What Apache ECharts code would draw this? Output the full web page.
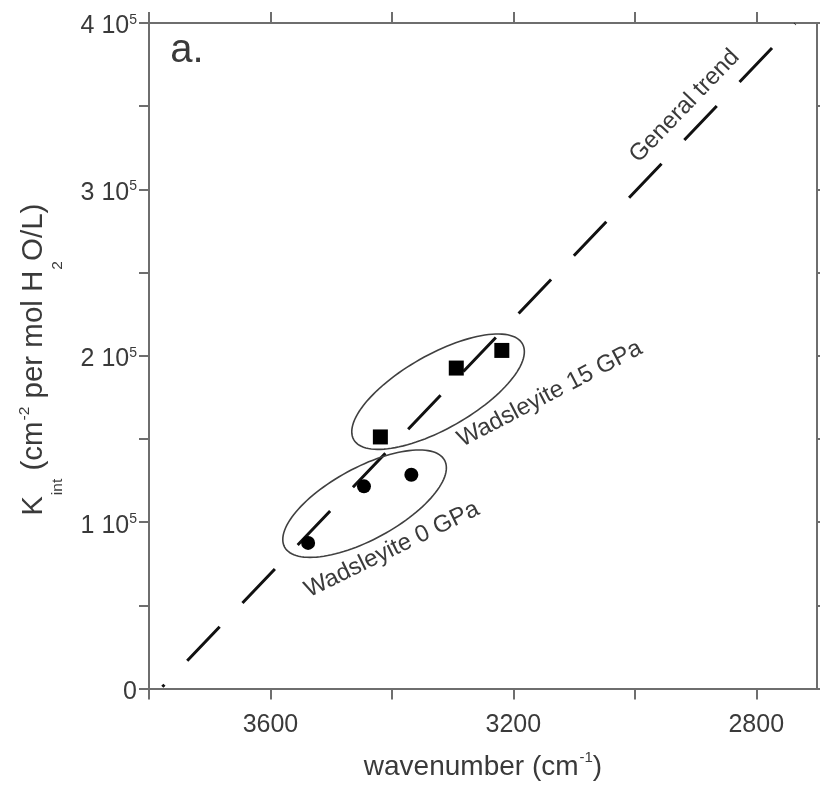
<!DOCTYPE html>
<html>
<head>
<meta charset="utf-8">
<script src="https://cdn.jsdelivr.net/npm/echarts@6/dist/echarts.min.js"></script>
<style>
  html, body { margin: 0; padding: 0; background: #ffffff; }
  #chart { width: 820px; height: 786px; }
</style>
</head>
<body>
<div id="chart"></div>
<script>
// Integrated absorption coefficient of OH bands vs. wavenumber
const wads0Wavenumber = [3538, 3446, 3368];
const wads0Kint = [87500, 121500, 128500];
const wads15Wavenumber = [3419, 3294, 3219];
const wads15Kint = [151200, 192600, 203200];

// End points of the general trend line
const trendWavenumber = [3778, 2736];
const trendKint = [1000, 399500];

// Axis ticks and labels
const xTickValues = [3800, 3600, 3400, 3200, 3000, 2800];
const xLabelValues = [3600, 3200, 2800];
const yTickValues = [0, 50000, 100000, 150000, 200000, 250000, 300000, 350000, 400000];
const yLabelValues = [0, 100000, 200000, 300000, 400000];

// Circled groups: centres in data units
const groupNames = ['Wadsleyite 0 GPa', 'Wadsleyite 15 GPa'];
const groupCenterWavenumber = [3445, 3324];
const groupCenterKint = [111100, 178400];

// ---- presentation ----
const FONT = '"Liberation Sans", Arial, Helvetica, sans-serif';
const TEXT = '#3a3a3a';
const AXIS = '#6e6e6e';

// ellipse semi-axes (px) and tilt (deg) for each circled group
const ellipseLook = [
  { a: 91, b: 36, tilt: 28.5 },
  { a: 97, b: 37, tilt: 29.6 }
];

// free text notes anchored in data units
const notes = [
  { text: groupNames[0], at: [3400, 83500], tilt: 26 },
  { text: groupNames[1], at: [3140, 177000], tilt: 27.5 },
  { text: 'General trend', at: [2918, 350000], tilt: 46 }
];

const pairs = (xs, ys) => xs.map((x, i) => [x, ys[i]]);

const chart = echarts.init(document.getElementById('chart'), null, { renderer: 'canvas' });

const axisLineStyle = { color: AXIS, width: 2 };

function yLabel(v) {
  if (v === 0) return '{m|0}';
  return '{m|' + (v / 100000) + ' 10}{s|5}';
}

const option = {
  animation: false,
  backgroundColor: '#ffffff',
  textStyle: { fontFamily: FONT },
  grid: { left: 149, top: 23, width: 668, height: 666, containLabel: false },
  graphic: [{
    type: 'text', x: 187, y: 50.5,
    style: { text: 'a.', font: '40px ' + FONT, fill: TEXT, align: 'center', verticalAlign: 'middle' }
  }],
  xAxis: [{
    type: 'value', position: 'bottom', inverse: true, min: 2700, max: 3800,
    axisLine: { show: true, onZero: false, lineStyle: axisLineStyle },
    axisTick: { show: true, customValues: xTickValues, length: 11, lineStyle: axisLineStyle },
    axisLabel: {
      customValues: xLabelValues, margin: 24, fontSize: 25, color: TEXT, fontFamily: FONT,
      formatter: v => String(v)
    },
    splitLine: { show: false },
    name: '{m|wavenumber (cm}{s|-1}{m|)}',
    nameLocation: 'middle', nameGap: 62,
    nameTextStyle: {
      color: TEXT, fontFamily: FONT,
      rich: {
        m: { fontSize: 28, color: TEXT, fontFamily: FONT },
        s: { fontSize: 15, color: TEXT, fontFamily: FONT, padding: [0, 0, 18, 1] }
      }
    }
  }, {
    type: 'value', position: 'top', inverse: true, min: 2700, max: 3800,
    axisLine: { show: true, onZero: false, lineStyle: axisLineStyle },
    axisTick: { show: true, customValues: xTickValues, length: 11, lineStyle: axisLineStyle },
    axisLabel: { show: false },
    splitLine: { show: false }
  }],
  yAxis: [{
    type: 'value', position: 'left', min: 0, max: 400000,
    axisLine: { show: true, onZero: false, lineStyle: axisLineStyle },
    axisTick: { show: true, customValues: yTickValues, length: 10, lineStyle: axisLineStyle },
    axisLabel: {
      customValues: yLabelValues, margin: 12, formatter: yLabel, padding: [7, 0, 0, 0],
      rich: {
        m: { fontSize: 25, color: TEXT, fontFamily: FONT },
        s: { fontSize: 14, color: TEXT, fontFamily: FONT, padding: [0, 0, 13, 0] }
      }
    },
    splitLine: { show: false },
    name: '{m|K}{b|int}{m| (cm}{s|-2}{m| per mol H}{b|2}{m|O/L)}',
    nameLocation: 'middle', nameRotate: 90, nameGap: 83,
    nameTextStyle: {
      color: TEXT, fontFamily: FONT, padding: [0, 8, 0, 0],
      rich: {
        m: { fontSize: 29.5, color: TEXT, fontFamily: FONT },
        b: { fontSize: 15.5, color: TEXT, fontFamily: FONT, padding: [48, 0, 0, 1] },
        s: { fontSize: 15.5, color: TEXT, fontFamily: FONT, padding: [0, 0, 19, 1] }
      }
    }
  }, {
    type: 'value', position: 'right', min: 0, max: 400000,
    axisLine: { show: true, onZero: false, lineStyle: axisLineStyle },
    axisTick: { show: true, customValues: yTickValues, length: 10, lineStyle: axisLineStyle },
    axisLabel: { show: false },
    splitLine: { show: false }
  }],
  series: [
    {
      name: 'General trend', type: 'line', xAxisIndex: 0, yAxisIndex: 0,
      data: pairs(trendWavenumber, trendKint),
      showSymbol: false, symbol: 'none', silent: true, z: 2,
      lineStyle: { color: '#111111', width: 3, type: [47, 33], dashOffset: 44, cap: 'butt' }
    },
    {
      name: 'Circled groups', type: 'custom', xAxisIndex: 0, yAxisIndex: 0, z: 3, clip: false,
      data: pairs(groupCenterWavenumber, groupCenterKint),
      renderItem: function (params, api) {
        const c = api.coord([api.value(0), api.value(1)]);
        const e = ellipseLook[params.dataIndex];
        const th = e.tilt * Math.PI / 180;
        const pts = [];
        for (let k = 0; k < 120; k++) {
          const t = k / 120 * Math.PI * 2;
          const ex = e.a * Math.cos(t), ey = e.b * Math.sin(t);
          pts.push([c[0] + ex * Math.cos(th) - ey * Math.sin(th),
                    c[1] - (ex * Math.sin(th) + ey * Math.cos(th))]);
        }
        return {
          type: 'polygon', shape: { points: pts },
          style: { fill: 'none', stroke: '#404040', lineWidth: 1.6 }
        };
      }
    },
    {
      name: groupNames[0], type: 'scatter', xAxisIndex: 0, yAxisIndex: 0, z: 4,
      data: pairs(wads0Wavenumber, wads0Kint),
      symbol: 'circle', symbolSize: 14, itemStyle: { color: '#000000', opacity: 1 }
    },
    {
      name: groupNames[1], type: 'scatter', xAxisIndex: 0, yAxisIndex: 0, z: 4,
      data: pairs(wads15Wavenumber, wads15Kint),
      symbol: 'rect', symbolSize: 15, itemStyle: { color: '#000000', opacity: 1 }
    },
    {
      name: 'Notes', type: 'custom', xAxisIndex: 0, yAxisIndex: 0, z: 5, clip: false,
      data: notes.map(n => n.at),
      renderItem: function (params, api) {
        const c = api.coord([api.value(0), api.value(1)]);
        const n = notes[params.dataIndex];
        return {
          type: 'text', x: c[0], y: c[1], rotation: n.tilt * Math.PI / 180,
          style: { text: n.text, font: '24px ' + FONT, fill: TEXT, align: 'center', verticalAlign: 'middle' }
        };
      }
    }
  ]
};

chart.setOption(option);
</script>
</body>
</html>
